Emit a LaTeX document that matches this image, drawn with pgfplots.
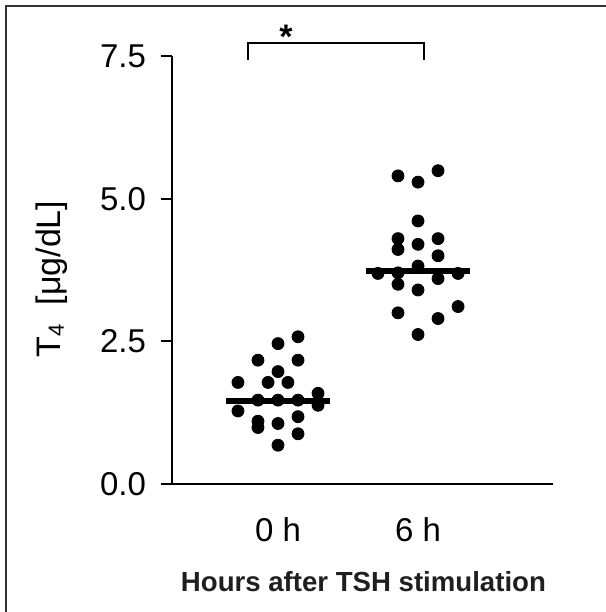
\documentclass[border=0pt]{standalone}
\usepackage{fontspec}
\setmainfont{Liberation Sans}
\usepackage{pgfplots}
\usepackage{pgfplotstable}
\pgfplotsset{compat=1.18}

% dots: x = group position (0 = 0 h, 1 = 6 h) plus a small jitter
\pgfplotstableread{
x y
0.143 2.58
0.000 2.46
-0.143 2.17
0.143 2.17
0.000 1.97
-0.286 1.78
-0.071 1.78
0.071 1.78
0.286 1.59
-0.143 1.47
0.000 1.47
0.143 1.47
0.286 1.38
-0.286 1.28
-0.143 1.10
-0.143 0.99
0.000 1.06
0.143 1.18
0.143 0.88
0.000 0.68
}\zeroh
\pgfplotstableread{
x y
1.143 5.49
0.857 5.40
1.000 5.29
1.000 4.61
0.857 4.30
1.143 4.30
1.000 4.20
0.857 4.11
1.143 4.00
1.000 3.82
0.714 3.69
0.857 3.70
1.143 3.60
1.286 3.69
0.857 3.50
1.000 3.40
0.857 3.00
1.286 3.11
1.143 2.90
1.000 2.62
}\sixh

\begin{document}
\begin{tikzpicture}
\useasboundingbox (0,0) rectangle (303pt,-306pt);
\draw[line width=0.6pt, black!80] (3pt,-306pt) -- (3pt,-3pt) -- (303pt,-3pt);
\begin{axis}[
  at={(86pt,-242pt)}, anchor=south west,
  scale only axis, width=190.5pt, height=214pt,
  xmin=-0.757, xmax=1.964, ymin=0, ymax=7.5,
  axis lines*=left,
  axis line style={line width=1pt},
  clip=false,
  /pgf/number format/assume math mode=true,
  xtick={0,1}, xticklabels={0 h, 6 h},
  x tick style={draw=none},
  ytick={0,2.5,5,7.5},
  y tick style={line width=1pt, black},
  tick align=outside,
  major tick length=5.5pt,
  yticklabel style={/pgf/number format/fixed, /pgf/number format/fixed zerofill,
    /pgf/number format/precision=1, font=\fontsize{16.5}{19}\selectfont, xshift=-4pt},
  xticklabel style={font=\fontsize{16.5}{19}\selectfont, yshift=-8pt},
  ylabel={T{\fontsize{11}{13}\selectfont\raisebox{-1.5pt}{4}}\ \ [μg/dL]},
  ylabel style={at={(axis description cs:-0.315,0.479)}, anchor=center,
    font=\fontsize{17}{20}\selectfont},
  xlabel={\textbf{Hours after TSH stimulation}},
  xlabel style={at={(axis description cs:1,0)}, anchor=base east, yshift=-53.5pt,
    font=\fontsize{13.8}{16}\selectfont, text=black!88},
]
\addplot [only marks, mark=*, mark size=3pt, black] table {\zeroh};
\addplot [only marks, mark=*, mark size=3pt, black] table {\sixh};
\addplot [line width=3pt, black] coordinates {(-0.371,1.46) (0.371,1.46)};
\addplot [line width=3pt, black] coordinates {(0.629,3.74) (1.371,3.74)};
\addplot [line width=1pt, black] coordinates {(-0.214,7.43) (-0.214,7.73) (1.043,7.73) (1.043,7.43)};
\node[font=\fontsize{17}{19}\selectfont\bfseries] at (axis cs:0.057,7.84) {*};
\end{axis}
\end{tikzpicture}
\end{document}
